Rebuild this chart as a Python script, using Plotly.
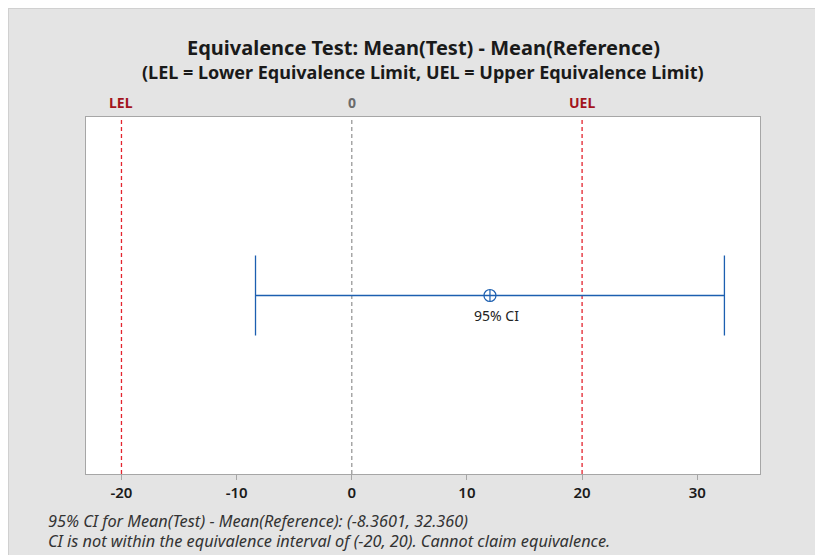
import plotly.graph_objects as go

# Data
ci_lower = -8.3601
ci_upper = 32.360
estimate = (ci_lower + ci_upper) / 2
lel = -20
uel = 20
ref_zero = 0
tick_vals = [-20, -10, 0, 10, 20, 30]
tick_text = ["-20", "-10", "0", "10", "20", "30"]
top_labels = ["LEL", "0", "UEL"]
top_label_x = [lel, ref_zero, uel]
top_label_colors = ["#a3141d", "#6b6b6b", "#a3141d"]

title = "Equivalence Test: Mean(Test) - Mean(Reference)"
subtitle = "(LEL = Lower Equivalence Limit, UEL = Upper Equivalence Limit)"
foot1 = "95% CI for Mean(Test) - Mean(Reference): (-8.3601, 32.360)"
foot2 = "CI is not within the equivalence interval of (-20, 20). Cannot claim equivalence."

FONT = "Noto Sans"
BLUE = "#1c5fb0"
OX, OY = 8, 8           # page offset of the figure (body margin)
W, H = 815, 547
L, R, T, B = 78, 63, 109, 81
pw, ph = W - L - R, H - T - B

def px2x(p):
    return (p - OX - L) / pw

def py2y(p):
    return (H - B - (p - OY)) / ph

fig = go.Figure()

# Equivalence limit lines and zero line
for xv, col in [(lel, "#e3242e"), (uel, "#e3242e"), (ref_zero, "#9a9a9a")]:
    fig.add_trace(go.Scatter(x=[xv, xv], y=[0, 1], mode="lines",
                             line=dict(color=col, width=1.3, dash="4px,3px"),
                             showlegend=False, hoverinfo="skip"))

# CI with caps
fig.add_trace(go.Scatter(
    x=[estimate], y=[0.5], mode="markers",
    marker=dict(symbol="circle-cross-open", size=12, color=BLUE, line=dict(width=1.2, color=BLUE)),
    error_x=dict(type="data", symmetric=False,
                 array=[ci_upper - estimate], arrayminus=[estimate - ci_lower],
                 color=BLUE, thickness=1.3, width=40),
    showlegend=False, hoverinfo="skip"))

fig.add_annotation(x=estimate, y=0.5, xref="x", yref="y", text="95% CI",
                   showarrow=False, yanchor="top", yshift=-8, xshift=7,
                   font=dict(family=FONT, size=14, color="#222222"))

# Top labels
for t, xv, c in zip(top_labels, top_label_x, top_label_colors):
    fig.add_annotation(x=xv, y=1, xref="x", yref="paper", text="<b>%s</b>" % t,
                       showarrow=False, yanchor="bottom", yshift=3,
                       font=dict(family=FONT, size=14, color=c))

# Titles
fig.add_annotation(x=0.5, y=py2y(47), xref="paper", yref="paper", text="<b>%s</b>" % title,
                   showarrow=False, xanchor="center", yanchor="middle",
                   font=dict(family=FONT, size=20, color="#1a1a1a"))
fig.add_annotation(x=0.5, y=py2y(72), xref="paper", yref="paper", text="<b>%s</b>" % subtitle,
                   showarrow=False, xanchor="center", yanchor="middle",
                   font=dict(family=FONT, size=18, color="#1a1a1a"))

# Footnotes
for txt, yp in [(foot1, 521), (foot2, 541)]:
    fig.add_annotation(x=px2x(46), y=py2y(yp), xref="paper", yref="paper", text="<i>%s</i>" % txt,
                       showarrow=False, xanchor="left", yanchor="middle",
                       font=dict(family=FONT, size=16.3, color="#333333"))

# thin border at the top and left of the grey panel
fig.add_shape(type="line", xref="paper", yref="paper", x0=px2x(8), x1=px2x(823),
              y0=py2y(8.5), y1=py2y(8.5), line=dict(color="#d0d0d0", width=1))
fig.add_shape(type="line", xref="paper", yref="paper", x0=px2x(8.5), x1=px2x(8.5),
              y0=py2y(555), y1=py2y(8), line=dict(color="#d0d0d0", width=1))

fig.update_xaxes(range=[-23.08, 35.45], tickvals=tick_vals, ticktext=tick_text,
                 showgrid=False, zeroline=False, showline=True, mirror=True,
                 linecolor="#a6a6a6", linewidth=1, ticks="outside", ticklen=5,
                 tickcolor="#a6a6a6",
                 tickfont=dict(family=FONT, size=15, color="#1a1a1a", weight=600))
fig.update_yaxes(range=[0, 1], showgrid=False, zeroline=False, showticklabels=False,
                 showline=True, mirror=True, linecolor="#a6a6a6", linewidth=1, ticks="")

fig.update_layout(width=W, height=H, margin=dict(l=L, r=R, t=T, b=B),
                  paper_bgcolor="#e4e4e4", plot_bgcolor="white",
                  font=dict(family=FONT))

fig.write_html("out.html")
